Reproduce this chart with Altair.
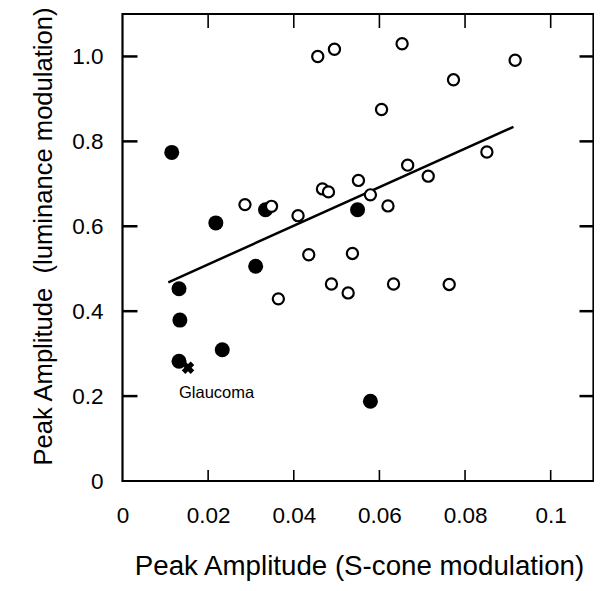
import altair as alt
import pandas as pd

# Open circles (S-cone peak amplitude, luminance peak amplitude)
open_x = [0.0456, 0.0495, 0.0653, 0.0917, 0.0773, 0.0605, 0.0851, 0.0666, 0.0714, 0.0551,
          0.0467, 0.0481, 0.0579, 0.0286, 0.0348, 0.0620, 0.0410, 0.0435, 0.0537, 0.0488,
          0.0527, 0.0633, 0.0763, 0.0364]
open_y = [1.000, 1.017, 1.030, 0.991, 0.945, 0.875, 0.775, 0.744, 0.718, 0.708,
          0.688, 0.681, 0.674, 0.651, 0.647, 0.648, 0.625, 0.533, 0.536, 0.464,
          0.443, 0.464, 0.463, 0.429]

# Filled circles
filled_x = [0.0115, 0.0218, 0.0334, 0.0549, 0.0311, 0.0132, 0.0134, 0.0233, 0.0132, 0.0579]
filled_y = [0.774, 0.608, 0.639, 0.639, 0.506, 0.453, 0.379, 0.309, 0.282, 0.188]

# Glaucoma case (cross)
glaucoma_x = [0.0153]
glaucoma_y = [0.267]
label_x = [0.0132]
label_y = [0.195]
label_text = ["Glaucoma"]

# Regression line end points
fit_x = [0.0107, 0.0913]
fit_y = [0.468, 0.834]

x_ticks = [0, 0.02, 0.04, 0.06, 0.08, 0.1]
y_ticks = [0, 0.2, 0.4, 0.6, 0.8, 1.0]
x_domain = [0, 0.11]
y_domain = [0, 1.1]

W, H = 471, 467
FONT = "Liberation Sans"

xs = alt.Scale(domain=x_domain, nice=False, zero=False)
ys = alt.Scale(domain=y_domain, nice=False, zero=False)

x_axis = alt.Axis(values=x_ticks, format=".2~f", labelFont=FONT, labelFontSize=22.5,
                  labelColor="black", labelBaseline="alphabetic", labelPadding=41.5,
                  labelFlush=False, labelOverlap=False, ticks=False,
                  domain=False, grid=False,
                  title="Peak Amplitude (S-cone modulation)", titleFont=FONT,
                  titleFontSize=27.7, titleFontWeight="normal", titleColor="black",
                  titleBaseline="alphabetic", titleAlign="center",
                  titleX=W / 2 + 1, titleY=93.3)
y_axis = alt.Axis(values=y_ticks,
                  labelExpr="datum.value == 0 ? '0' : format(datum.value, '.1f')",
                  labelFont=FONT, labelFontSize=22.5, labelColor="black",
                  labelPadding=19.5, labelFlush=False, labelOverlap=False,
                  ticks=False, domain=False, grid=False,
                  title="Peak Amplitude\u00a0 (luminance modulation)", titleFont=FONT,
                  titleFontSize=25.6, titleFontWeight="normal", titleColor="black",
                  titleAngle=270, titleAlign="center", titleBaseline="alphabetic",
                  titleX=-70.8, titleY=222)

X = alt.X("x:Q", scale=xs, axis=x_axis)
Y = alt.Y("y:Q", scale=ys, axis=y_axis)

open_df = pd.DataFrame({"x": open_x, "y": open_y})
filled_df = pd.DataFrame({"x": filled_x, "y": filled_y})
gl_df = pd.DataFrame({"x": glaucoma_x, "y": glaucoma_y})
lab_df = pd.DataFrame({"x": label_x, "y": label_y, "t": label_text})
fit_df = pd.DataFrame({"x": fit_x, "y": fit_y})
xt_df = pd.DataFrame({"x": [v for v in x_ticks if v > 0]})
yt_df = pd.DataFrame({"y": [v for v in y_ticks if v > 0]})

fit = alt.Chart(fit_df).mark_line(color="black", strokeWidth=2.5).encode(x=X, y=Y)

filled = alt.Chart(filled_df).mark_point(
    shape="circle", filled=True, color="black", size=225, opacity=1
).encode(x=X, y=Y)

opened = alt.Chart(open_df).mark_point(
    shape="circle", filled=True, fill="white", stroke="black", strokeWidth=2.2,
    size=125, opacity=1
).encode(x=X, y=Y)

cross = alt.Chart(gl_df).mark_point(
    shape="cross", filled=True, color="black", size=160, angle=45, opacity=1
).encode(x=X, y=Y)

label = alt.Chart(lab_df).mark_text(
    align="left", baseline="alphabetic", font=FONT, fontSize=16.5, color="black"
).encode(x=X, y=Y, text="t:N")

bottom_ticks = alt.Chart(xt_df).mark_rule(color="black", strokeWidth=1.6).encode(
    x=X, y=alt.value(H), y2=alt.value(H - 11))
top_ticks = alt.Chart(xt_df).mark_rule(color="black", strokeWidth=1.6).encode(
    x=X, y=alt.value(0), y2=alt.value(14))
left_ticks = alt.Chart(yt_df).mark_rule(color="black", strokeWidth=2.5).encode(
    y=Y, x=alt.value(0), x2=alt.value(15))
right_ticks = alt.Chart(yt_df).mark_rule(color="black", strokeWidth=2.5).encode(
    y=Y, x=alt.value(W), x2=alt.value(W - 14))

chart = alt.layer(
    fit, bottom_ticks, top_ticks, left_ticks, right_ticks, filled, opened, cross, label
).properties(
    width=W, height=H,
    autosize=alt.AutoSizeParams(type="none"),
    padding={"left": 114.5, "top": 6, "right": 0.5, "bottom": 101},
    background="white",
).configure_view(stroke="black", strokeWidth=2.2)

chart.save("out.html", embed_options={"renderer": "svg", "actions": False})
